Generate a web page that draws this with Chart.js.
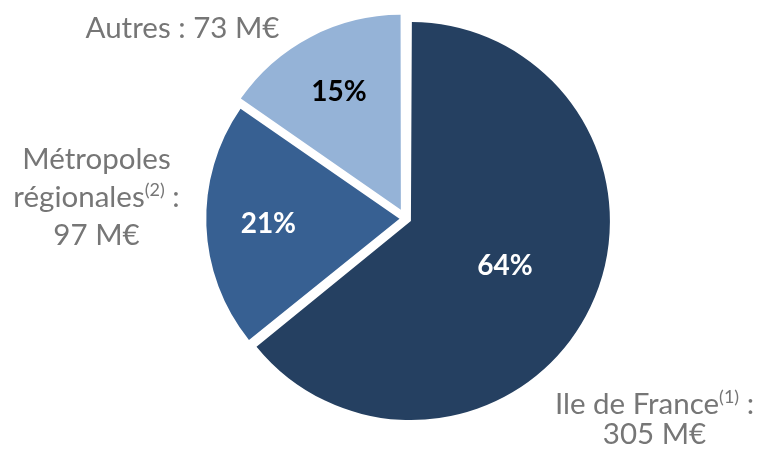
<!DOCTYPE html>
<html>
<head>
<meta charset="utf-8">
<script src="https://cdn.jsdelivr.net/npm/chart.js@4.4.1/dist/chart.umd.min.js"></script>
<style>
    html, body { margin: 0; padding: 0; background: #fff; }
    #wrap { width: 761px; height: 454px; position: relative; }
</style>
</head>
<body>
<div id="wrap"><canvas id="pieChart"></canvas></div>
<script>
// Data
const regions = ["Ile de France", "Métropoles régionales", "Autres"];
const amounts = [305, 97, 73]; // M€
const shares = [64, 21, 15]; // %
const notes = ["(1)", "(2)", ""];

const sliceColors = ["#254061", "#376092", "#95B3D7"];
const pctColors = ["#ffffff", "#ffffff", "#000000"];

// label text lines: each line is a list of [text, isSuperscript]
function outerLines(i) {
    const value = amounts[i] + " M€";
    if (i === 0) return [[[regions[0], false], [notes[0], true], [" :", false]], [[value, false]]];
    if (i === 1) {
        const w = regions[1].split(" ");
        return [[[w[0], false]], [[w[1], false], [notes[1], true], [" :", false]], [[value, false]]];
    }
    return [[[regions[i] + " : " + value, false]]];
}

const FONT = "Lato, 'Open Sans', sans-serif";
const mainSize = 29.5;
const supSize = 18;

function drawRich(ctx, parts, cx, baseline) {
    let total = 0;
    parts.forEach(([t, sup]) => {
        ctx.font = (sup ? supSize : mainSize) + "px " + FONT;
        total += ctx.measureText(t).width;
    });
    let x = cx - total / 2;
    parts.forEach(([t, sup]) => {
        ctx.font = (sup ? supSize : mainSize) + "px " + FONT;
        ctx.fillText(t, x, sup ? baseline - 11 : baseline);
        x += ctx.measureText(t).width;
    });
}

// Slice labels
const sliceLabels = {
    id: "sliceLabels",
    afterDatasetsDraw(chart, args, opts) {
        const ctx = chart.ctx;
        const arcs = chart.getDatasetMeta(0).data;
        const offsets = chart.data.datasets[0].offset;
        ctx.save();
        arcs.forEach((arc, i) => {
            const mid = (arc.startAngle + arc.endAngle) / 2;
            const shift = offsets[i] / 4;
            const vx = arc.x + Math.cos(mid) * shift;
            const vy = arc.y + Math.sin(mid) * shift;
            const r = arc.outerRadius * opts.pctPos[i];

            // percentage inside
            ctx.font = "bold 28px " + FONT;
            ctx.fillStyle = pctColors[i];
            ctx.textAlign = "center";
            ctx.textBaseline = "middle";
            ctx.fillText(shares[i] + "%", vx + Math.cos(mid) * r, vy + Math.sin(mid) * r);

            // name and amount outside
            ctx.fillStyle = "#767676";
            ctx.textAlign = "left";
            ctx.textBaseline = "alphabetic";
            const [dx, dy, lh] = opts.outer[i];
            outerLines(i).forEach((line, k) => {
                drawRich(ctx, line, arc.x + dx, arc.y + dy + k * lh);
            });
        });
        ctx.restore();
    },
};

const ctx = document.getElementById("pieChart").getContext("2d");
const pieChart = new Chart(ctx, {
    type: "pie",
    data: {
        labels: regions,
        datasets: [
            {
                data: amounts,
                backgroundColor: sliceColors,
                borderWidth: 0,
                offset: [24, 24, 40],
                radius: 193,
            },
        ],
    },
    options: {
        responsive: true,
        maintainAspectRatio: false,
        animation: false,
        events: [],
        layout: {
            padding: { left: 50, right: 0, top: 0, bottom: 17 },
        },
        plugins: {
            legend: { display: false },
            tooltip: { enabled: false },
            sliceLabels: {
                pctPos: [0.54, 0.68, 0.69],
                outer: [
                    [249, 195, 30],
                    [-309, -50, 38],
                    [-223, -181, 0],
                ],
            },
        },
    },
    plugins: [sliceLabels],
});
</script>
</body>
</html>
